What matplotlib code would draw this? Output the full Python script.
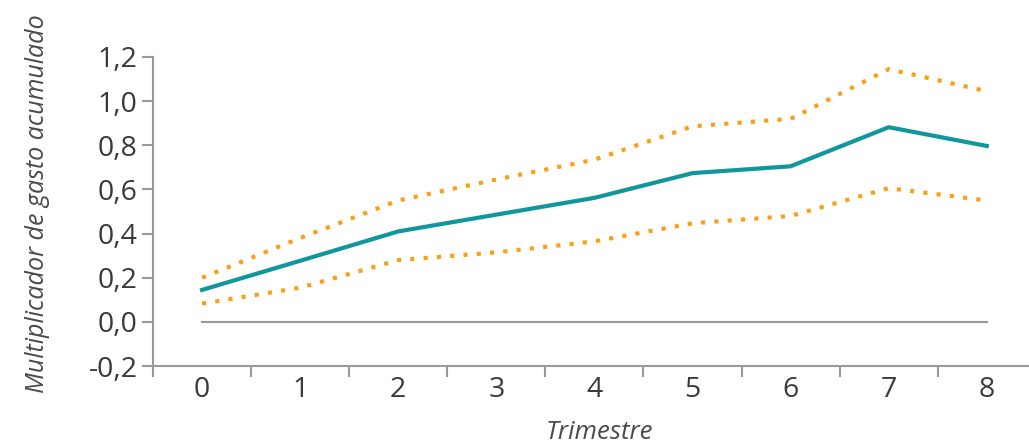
import numpy as np
import matplotlib.pyplot as plt
from matplotlib.ticker import FixedLocator, FuncFormatter

trimestres = [0, 1, 2, 3, 4, 5, 6, 7, 8]
multiplicador = [0.145, 0.277, 0.41, 0.486, 0.562, 0.674, 0.705, 0.882, 0.797]
banda_sup = [0.2, 0.38, 0.55, 0.645, 0.735, 0.886, 0.92, 1.145, 1.045]
banda_inf = [0.083, 0.155, 0.28, 0.315, 0.365, 0.447, 0.48, 0.606, 0.55]
y_ticks = [-0.2, 0.0, 0.2, 0.4, 0.6, 0.8, 1.0, 1.2]

plt.rcParams['font.family'] = ['Open Sans', 'DejaVu Sans']

teal = '#11969e'
naranja = '#f7a11a'
gris = '#9a9a9a'

fig = plt.figure(figsize=(10.29, 4.47), dpi=100)
ax = fig.add_axes([0.1487, 0.181, 0.8513, 0.6915])

# linea de referencia en cero
ax.plot([trimestres[0], trimestres[-1]], [0, 0], color=gris, lw=1.5, zorder=1)

ax.plot(trimestres, banda_sup, color=naranja, lw=3, ls=(0, (1, 2.2)), zorder=2)
ax.plot(trimestres, banda_inf, color=naranja, lw=3, ls=(0, (1, 2.2)), zorder=2)
ax.plot(trimestres, multiplicador, color=teal, lw=3, zorder=3)

ax.set_xlim(-0.5, 8.43)
ax.set_ylim(-0.2, 1.2)

ax.set_yticks(y_ticks)
ax.yaxis.set_major_formatter(FuncFormatter(lambda v, p: f'{v:.1f}'.replace('.', ',')))
ax.set_xticks(trimestres)
ax.xaxis.set_minor_locator(FixedLocator(np.arange(-0.5, 8.0, 1.0)))

for s in ['top', 'right']:
    ax.spines[s].set_visible(False)
for s in ['left', 'bottom']:
    ax.spines[s].set_color(gris)
    ax.spines[s].set_linewidth(1.5)

ax.tick_params(axis='y', direction='out', length=8, width=1.5, color=gris,
               labelsize=20.5, labelcolor='#3a3a3a', pad=3)
ax.tick_params(axis='x', which='major', length=0, labelsize=20.5,
               labelcolor='#3a3a3a', pad=7)
ax.tick_params(axis='x', which='minor', direction='out', length=8, width=1.5, color=gris)

ax.set_xlabel('Trimestre', fontsize=18.5, style='italic', color='#4a4a4a')
ax.set_ylabel('Multiplicador de gasto acumulado', fontsize=18, style='italic',
              color='#4a4a4a')
ax.xaxis.set_label_coords(0.51, -0.175)
ax.yaxis.set_label_coords(-0.1176, 0.527)

fig.savefig('out.png', dpi=100)
